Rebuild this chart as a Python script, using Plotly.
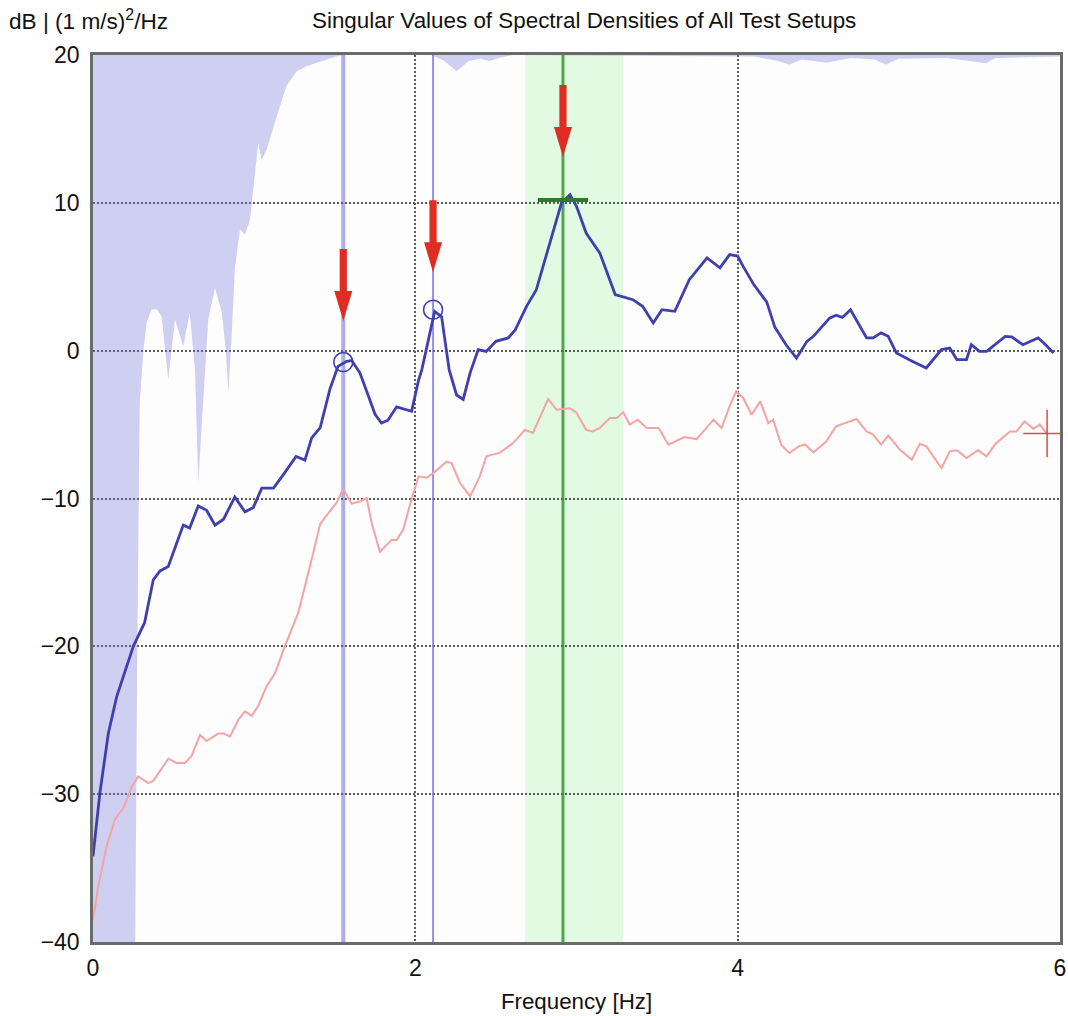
import plotly.graph_objects as go

# First singular value of the spectral density matrix (dB)
sv1_freq = [0.0, 0.043, 0.095, 0.147, 0.25, 0.32, 0.374, 0.416, 0.467, 0.56, 0.60, 0.653, 0.705,
            0.757, 0.81, 0.88, 0.943, 0.995, 1.047, 1.12, 1.18, 1.26, 1.315, 1.357, 1.41, 1.47,
            1.52, 1.574, 1.605, 1.656, 1.71, 1.75, 1.79, 1.83, 1.884, 1.977, 2.02, 2.04, 2.12,
            2.163, 2.21, 2.256, 2.297, 2.34, 2.39, 2.44, 2.50, 2.576, 2.62, 2.69, 2.75, 2.82,
            2.907, 2.96, 3.0, 3.06, 3.145, 3.24, 3.35, 3.41, 3.476, 3.53, 3.61, 3.70, 3.81, 3.89,
            3.95, 4.0, 4.034, 4.1, 4.18, 4.23, 4.30, 4.365, 4.43, 4.47, 4.57, 4.61, 4.65, 4.70,
            4.80, 4.84, 4.89, 4.934, 4.985, 5.08, 5.17, 5.265, 5.316, 5.36, 5.42, 5.45, 5.50,
            5.545, 5.66, 5.70, 5.77, 5.864, 5.90, 5.96]
sv1_db = [-34.2, -29.9, -25.9, -23.4, -20.0, -18.4, -15.5, -14.9, -14.6, -11.8, -12.0, -10.5, -10.8,
          -11.8, -11.4, -9.9, -10.9, -10.6, -9.3, -9.3, -8.4, -7.15, -7.4, -5.9, -5.2, -2.6,
          -1.06, -0.72, -0.66, -1.5, -3.1, -4.3, -4.9, -4.7, -3.8, -4.1, -2.0, -1.3, 2.66,
          2.3, -1.3, -3.0, -3.3, -1.5, 0.07, -0.05, 0.63, 0.86, 1.4, 3.0, 4.1, 6.8,
          10.0, 10.55, 9.77, 7.96, 6.6, 3.8, 3.45, 3.0, 1.87, 2.77, 2.66, 4.8, 6.27, 5.6,
          6.5, 6.4, 5.7, 4.47, 3.3, 1.6, 0.4, -0.5, 0.63, 0.97, 2.2, 2.4, 2.25, 2.77,
          0.86, 0.86, 1.2, 0.97, -0.16, -0.7, -1.17, 0.07, 0.18, -0.6, -0.6, 0.4, -0.05,
          -0.05, 0.97, 0.93, 0.4, 0.86, 0.52, -0.16]

# Second singular value (dB)
sv2_freq = [0.0, 0.033, 0.085, 0.137, 0.19, 0.24, 0.28, 0.343, 0.374, 0.467, 0.519, 0.57, 0.612,
            0.664, 0.705, 0.777, 0.81, 0.85, 0.90, 0.943, 0.985, 1.026, 1.077, 1.13, 1.19, 1.274,
            1.346, 1.41, 1.46, 1.51, 1.553, 1.605, 1.656, 1.698, 1.729, 1.78, 1.853, 1.884, 1.925,
            1.967, 2.02, 2.07, 2.11, 2.194, 2.225, 2.277, 2.34, 2.40, 2.44, 2.525, 2.607, 2.68,
            2.73, 2.824, 2.876, 2.96, 3.0, 3.06, 3.10, 3.145, 3.207, 3.25, 3.29, 3.33, 3.38,
            3.435, 3.51, 3.57, 3.67, 3.745, 3.85, 3.90, 3.95, 3.99, 4.034, 4.086, 4.14, 4.19,
            4.22, 4.27, 4.32, 4.385, 4.42, 4.47, 4.55, 4.61, 4.665, 4.737, 4.80, 4.84, 4.89,
            4.934, 5.007, 5.08, 5.13, 5.17, 5.265, 5.316, 5.36, 5.42, 5.49, 5.545, 5.60, 5.69,
            5.73, 5.78, 5.835, 5.875, 5.916]
sv2_db = [-38.5, -36.2, -33.5, -31.7, -30.9, -29.5, -28.8, -29.25, -29.1, -27.6, -27.9, -27.9, -27.4,
          -26.0, -26.4, -25.9, -25.9, -26.1, -25.0, -24.4, -24.7, -24.0, -22.7, -21.8, -20.0, -17.7,
          -14.6, -11.7, -11.0, -10.3, -9.36, -10.35, -10.2, -9.97, -11.66, -13.6, -12.8, -12.8, -12.1,
          -10.4, -8.5, -8.6, -8.3, -7.5, -7.6, -8.95, -9.86, -8.5, -7.15, -6.9, -6.25, -5.35,
          -5.57, -3.27, -4.0, -3.9, -4.2, -5.35, -5.46, -5.23, -4.55, -4.55, -4.17, -5.0, -4.67,
          -5.23, -5.23, -6.36, -5.84, -5.98, -4.67, -5.23, -3.77, -2.75, -3.2, -4.33, -3.43, -4.9,
          -4.67, -6.36, -6.92, -6.43, -6.36, -6.88, -6.14, -5.12, -4.9, -4.62, -5.46, -5.68, -6.36,
          -5.75, -6.7, -7.37, -6.3, -6.47, -7.94, -6.81, -6.74, -7.26, -6.74, -7.15, -6.3, -5.46,
          -5.46, -4.78, -5.28, -5.0, -5.57]

# Lower edge of the shaded (excluded) region, filled up to the top of the axis
mask_freq = [0.0, 0.262, 0.275, 0.29, 0.312, 0.333, 0.364, 0.395, 0.426, 0.467, 0.509, 0.54, 0.56,
             0.60, 0.633, 0.653, 0.684, 0.715, 0.757, 0.80, 0.825, 0.84, 0.86, 0.88, 0.912, 0.943,
             0.974, 0.994, 1.025, 1.047, 1.078, 1.14, 1.2, 1.264, 1.326, 1.388, 1.45, 1.51, 1.56,
             2.1, 2.18, 2.256, 2.33, 2.40, 2.46, 2.52, 2.6, 4.1, 4.25, 4.32, 4.4, 4.55, 4.7,
             4.85, 4.92, 5.0, 5.3, 5.54, 5.6, 5.8, 6.0]
mask_db = [-40.0, -40.0, -20.0, -3.5, -0.1, 1.9, 2.8, 2.8, 2.3, -1.95, 2.1, 1.0, 0.3,
           2.57, -1.3, -8.95, -3.5, 2.1, 4.24, 2.57, -0.1, -2.84, 0.97, 5.5, 8.19, 7.85,
           8.86, 10.9, 14.05, 12.9, 13.6, 15.85, 17.9, 18.9, 19.24, 19.47, 19.7, 19.9, 20.0,
           20.0, 19.6, 18.9, 19.6, 19.75, 19.6, 19.8, 20.0, 19.9, 19.6, 19.35, 19.7, 19.47, 19.8,
           19.7, 19.35, 19.75, 19.8, 19.45, 19.8, 19.85, 19.9]

# Picked modes
peak_freq = [1.553, 2.11, 2.916]
peak_db = [-0.77, 2.77, 10.2]
arrow_tip_db = [2.0, 5.3, 13.1]
band_freq = [2.68, 3.29]
cursor_freq = [5.92]
cursor_db = [-5.6]

x_range = [0, 6]
y_range = [-40, 20]
x_ticks = [0, 2, 4, 6]
y_ticks = [20, 10, 0, -10, -20, -30, -40]

FONT = "Liberation Sans, Arial, sans-serif"
BLUE = "#3f3fae"
PINK = "#f5a3a3"
RED = "#e02d24"

fig = go.Figure()

# shaded region: polygon closed along the top of the axis
fig.add_trace(go.Scatter(
    x=mask_freq + [x_range[1], x_range[0]],
    y=mask_db + [y_range[1], y_range[1]],
    fill="toself", mode="lines", line=dict(width=0),
    fillcolor="rgba(105,105,215,0.31)", hoverinfo="skip", showlegend=False))

fig.add_trace(go.Scatter(x=sv2_freq, y=sv2_db, mode="lines",
                         line=dict(color=PINK, width=2), showlegend=False))
fig.add_trace(go.Scatter(x=sv1_freq, y=sv1_db, mode="lines",
                         line=dict(color=BLUE, width=2.8), showlegend=False))

# circled peaks
fig.add_trace(go.Scatter(x=peak_freq[:2], y=peak_db[:2], mode="markers",
                         marker=dict(symbol="circle-open", size=19,
                                     line=dict(color=BLUE, width=1.6), color=BLUE),
                         showlegend=False))
# selected peak marker
fig.add_trace(go.Scatter(x=peak_freq[2:], y=peak_db[2:], mode="markers",
                         marker=dict(symbol="line-ew", size=36,
                                     line=dict(color="#2d7a2d", width=4)),
                         showlegend=False))
# cursor
fig.add_trace(go.Scatter(x=cursor_freq, y=cursor_db, mode="markers",
                         marker=dict(symbol="cross-thin", size=34,
                                     line=dict(color="#ee4444", width=1.5)),
                         showlegend=False))

shapes = []
# selection band
shapes.append(dict(type="rect", xref="x", yref="paper", x0=band_freq[0], x1=band_freq[1],
                   y0=0, y1=1, fillcolor="rgb(226,250,226)", line=dict(width=0), layer="below"))
# mode lines
shapes.append(dict(type="line", xref="x", yref="paper", x0=peak_freq[0], x1=peak_freq[0],
                   y0=0, y1=1, line=dict(color="rgba(120,120,220,0.6)", width=4), layer="between"))
shapes.append(dict(type="line", xref="x", yref="paper", x0=peak_freq[1], x1=peak_freq[1],
                   y0=0, y1=1, line=dict(color="rgba(110,110,220,0.75)", width=2), layer="between"))
shapes.append(dict(type="line", xref="x", yref="paper", x0=peak_freq[2], x1=peak_freq[2],
                   y0=0, y1=1, line=dict(color="rgb(80,165,80)", width=3), layer="between"))

# red arrows pointing down at each picked mode (pixel geometry anchored at the tip)
arrow_path = "M0,0 L-9,30 L-3.6,30 L-3.6,72 L3.6,72 L3.6,30 L9,30 Z"
for f, tip in zip(peak_freq, arrow_tip_db):
    shapes.append(dict(type="path", xref="x", yref="y", xsizemode="pixel", ysizemode="pixel",
                       xanchor=f, yanchor=tip, path=arrow_path,
                       fillcolor=RED, line=dict(width=0), layer="above"))

fig.update_layout(
    width=1068, height=1016,
    margin=dict(l=93, r=8, t=55, b=74),
    paper_bgcolor="white", plot_bgcolor="#fdfdfd",
    font=dict(family=FONT, size=22, color="#111"),
    shapes=shapes,
    annotations=[
        dict(text="Singular Values of Spectral Densities of All Test Setups",
             xref="paper", yref="paper", x=0.508, y=1, yshift=35, showarrow=False,
             xanchor="center", yanchor="middle", font=dict(size=22.4, family=FONT)),
        dict(text="dB | (1 m/s)<sup>2</sup>/Hz", xref="paper", yref="paper",
             x=-0.089, y=1, yshift=35, showarrow=False, xanchor="left", yanchor="middle",
             font=dict(size=22.6, family=FONT)),
    ],
    xaxis=dict(range=x_range, tickvals=x_ticks, ticks="", showgrid=True, automargin=False,
               gridcolor="#5a5a5a", griddash="2px,2px", gridwidth=2,
               showline=True, mirror=True, linecolor="#6a6a6a", linewidth=2.5,
               zeroline=False, tickfont=dict(size=23), ticklabelstandoff=4,
               title=dict(text="Frequency [Hz]", font=dict(size=22.3), standoff=14)),
    yaxis=dict(range=y_range, tickvals=y_ticks, ticks="", showgrid=True, automargin=False,
               gridcolor="#5a5a5a", griddash="2px,2px", gridwidth=2,
               showline=True, mirror=True, linecolor="#6a6a6a", linewidth=2.5,
               zeroline=False, tickfont=dict(size=23), ticklabelstandoff=6),
)

fig.write_html("out.html")
